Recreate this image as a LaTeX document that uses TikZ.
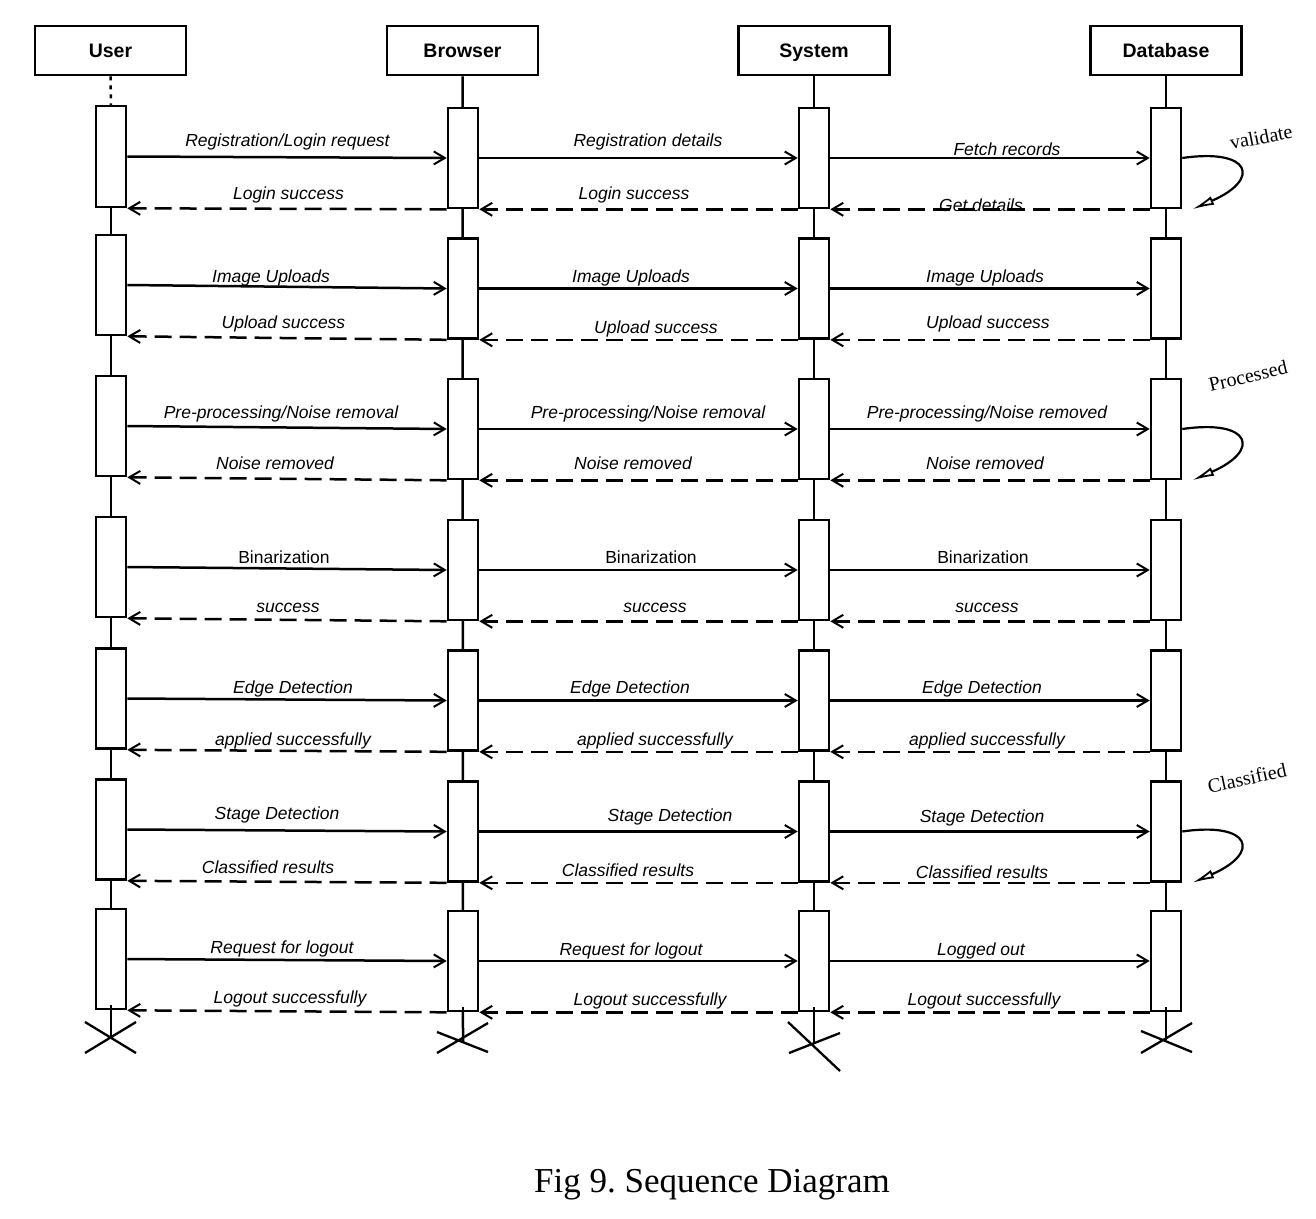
\documentclass[tikz,border=0pt]{standalone}
\usepackage{fontspec}
\setmainfont{Liberation Serif}
\setsansfont{Liberation Sans}
\usetikzlibrary{arrows.meta,calc}
\begin{document}
\begin{tikzpicture}[x=1pt,y=-1pt,
  hdr/.style={draw,line width=2.6pt,minimum width=151pt,minimum height=49pt,inner sep=0pt,text height=14pt,text depth=0pt,font=\sffamily\bfseries\fontsize{19.5}{22}\selectfont},
  act/.style={draw,fill=white,line width=2.6pt,minimum width=30pt,minimum height=100pt,inner sep=0pt},
  life/.style={line width=2.5pt},
  msg/.style={line width=2.5pt,-{Straight Barb[length=11pt,width=13pt,line width=2pt]}},
  ret/.style={msg,dash pattern=on 17pt off 8pt},
  lbl/.style={font=\sffamily\itshape\fontsize{17.5}{20}\selectfont,anchor=base,inner sep=0pt},
  lblu/.style={font=\sffamily\fontsize{17.5}{20}\selectfont,anchor=base,inner sep=0pt},
  note/.style={font=\fontsize{20}{22}\selectfont,inner sep=0pt},
  selfmsg/.style={line width=2.2pt,-{Latex[length=22pt,width=9pt,open,line width=1.8pt]}},
  xmark/.style={line width=2.3pt}
]
\useasboundingbox (0,0) rectangle (1316,1218);

% headers
\node[hdr] (uh) at (110.5,50.5) {User};
\node[hdr] (bh) at (462.5,50.5) {Browser};
\node[hdr] (sh) at (814,50.5) {System};
\node[hdr] (dh) at (1166,50.5) {Database};

% lifeline ends
\coordinate (ux) at (111,1038);
\coordinate (bx) at (463,1042);
\coordinate (sx) at (814,1043);
\coordinate (dx) at (1166,1040);

% activation box centres of the user column
\foreach \n/\y in {1/156.5,2/285,3/426,4/567,5/698.5,6/829.5,7/959}
  \path (111,\y) coordinate (uc\n);

\draw[life,dash pattern=on 4pt off 5pt] (uh.south) -- ($(uc1)+(0,-50)$);
\draw[life] (uc1) -- (ux);
\draw[life] (bh.south) -- (bx);
\draw[life] (sh.south) -- (sx);
\draw[life] (dh.south) -- (dx);

\node[act,minimum height=101pt] (u1) at (uc1) {};
\foreach \n in {2,...,7} \node[act] (u\n) at (uc\n) {};
\foreach \n/\y in {1/158,2/288.5,3/429,4/570,5/700.5,6/831.5,7/961}{
  \node[act] (b\n) at (463,\y) {};
  \node[act] (s\n) at (814,\y) {};
  \node[act] (d\n) at (1166,\y) {};
}

% last stubs over the final boxes
\draw[life] ([yshift=5pt]u7.south) -- (ux);
\draw[life] ([yshift=5pt]b7.south) -- (bx);
\draw[life] ([yshift=5pt]s7.south) -- (sx);
\draw[life] ([yshift=5pt]d7.south) -- (dx);

% crosses
\draw[xmark] (85,1022) -- (136,1053) (85,1053) -- (136,1022);
\draw[xmark] (437,1032) -- (488,1052) (437,1053) -- (488,1023);
\draw[xmark] (788,1022) -- (840,1071) (789,1053) -- (840,1033);
\draw[xmark] (1141,1031) -- (1192,1052) (1141,1053) -- (1192,1023);

% messages
\foreach \n in {1,...,7}{
  \draw[msg] (u\n.east) -- (b\n.west);
  \draw[msg] (b\n.east) -- (s\n.west);
  \draw[msg] (s\n.east) -- (d\n.west);
  \draw[ret] (b\n.south west) -- (u\n.south east);
  \draw[ret] (s\n.south west) -- (b\n.south east);
  \draw[ret] (d\n.south west) -- (s\n.south east);
}

% self messages
\draw[selfmsg] (d1.east) .. controls ($(d1.east)+(69,-10)$) and ($(d1.south east)+(79,-30)$) .. ([xshift=10pt]d1.south east);
\draw[selfmsg] (d3.east) .. controls ($(d3.east)+(69,-10)$) and ($(d3.south east)+(79,-30)$) .. ([xshift=10pt]d3.south east);
\draw[selfmsg] (d6.east) .. controls ($(d6.east)+(69,-10)$) and ($(d6.south east)+(79,-30)$) .. ([xshift=10pt]d6.south east);

\node[note,rotate=11] (n1) at (1261,137) {validate};
\node[note,rotate=13] (n2) at (1248,376) {Processed};
\node[note,rotate=12] (n3) at (1247,778) {Classified};

% labels row 1
\node[lbl] (l11) at (287.5,146) {Registration/Login request};
\node[lbl] (l12) at (288.5,199) {Login success};
\node[lbl] (l13) at (648,146) {Registration details};
\node[lbl] (l14) at (634,199) {Login success};
\node[lbl] (l15) at (1007,155) {Fetch records};
\node[lbl] (l16) at (981,211) {Get details};
% row 2
\node[lbl] (l21) at (271,282) {Image Uploads};
\node[lbl] (l22) at (283.5,328) {Upload success};
\node[lbl] (l23) at (631,282) {Image Uploads};
\node[lbl] (l24) at (656,333) {Upload success};
\node[lbl] (l25) at (985,282) {Image Uploads};
\node[lbl] (l26) at (988,328) {Upload success};
% row 3
\node[lbl] (l31) at (281,418) {Pre-processing/Noise removal};
\node[lbl] (l32) at (275,469) {Noise removed};
\node[lbl] (l33) at (648,418) {Pre-processing/Noise removal};
\node[lbl] (l34) at (633,469) {Noise removed};
\node[lbl] (l35) at (987,418) {Pre-processing/Noise removed};
\node[lbl] (l36) at (985,469) {Noise removed};
% row 4
\node[lblu] (l41) at (284,563) {Binarization};
\node[lbl] (l42) at (288,612) {success};
\node[lblu] (l43) at (651,563) {Binarization};
\node[lbl] (l44) at (655,612) {success};
\node[lblu] (l45) at (983,563) {Binarization};
\node[lbl] (l46) at (987,612) {success};
% row 5
\node[lbl] (l51) at (293,693) {Edge Detection};
\node[lbl] (l52) at (293,745) {applied successfully};
\node[lbl] (l53) at (630,693) {Edge Detection};
\node[lbl] (l54) at (655,745) {applied successfully};
\node[lbl] (l55) at (982,693) {Edge Detection};
\node[lbl] (l56) at (987,745) {applied successfully};
% row 6
\node[lbl] (l61) at (277,819) {Stage Detection};
\node[lbl] (l62) at (268,873) {Classified results};
\node[lbl] (l63) at (670,821) {Stage Detection};
\node[lbl] (l64) at (628,876) {Classified results};
\node[lbl] (l65) at (982,822) {Stage Detection};
\node[lbl] (l66) at (982,878) {Classified results};
% row 7
\node[lbl] (l71) at (282,953) {Request for logout};
\node[lbl] (l72) at (290,1003) {Logout successfully};
\node[lbl] (l73) at (631,955) {Request for logout};
\node[lbl] (l74) at (650,1005) {Logout successfully};
\node[lbl] (l75) at (981,955) {Logged out};
\node[lbl] (l76) at (984,1005) {Logout successfully};

% caption
\node[font=\fontsize{35}{40}\selectfont,anchor=base,inner sep=0pt] (cap) at (712,1192) {Fig 9.\ Sequence Diagram};
\end{tikzpicture}
\end{document}
